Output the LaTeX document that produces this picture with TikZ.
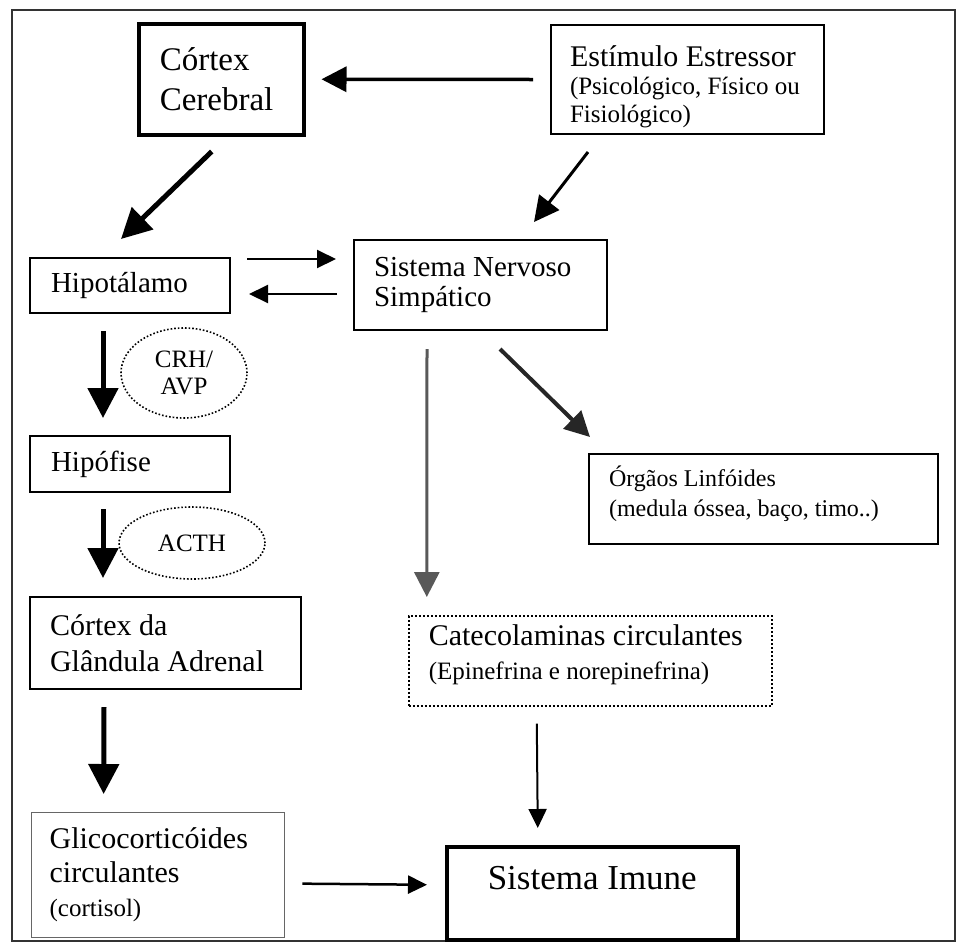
\documentclass[tikz,border=0pt]{standalone}
\usepackage{fontspec}
\setmainfont{Liberation Serif}
\usetikzlibrary{arrows.meta,shapes.geometric}

\tikzset{
  box/.style={draw, line width=2pt, anchor=north west, align=flush left, inner ysep=0pt},
  heavy/.style={line width=5pt, -{Triangle[length=30pt,width=30pt]}},
  medium/.style={line width=3pt, -{Triangle[length=25pt,width=25pt]}},
  lite/.style={line width=2pt, -{Triangle[length=19pt,width=18pt]}},
  hormone/.style={draw, dotted, line width=1.6pt, ellipse, inner sep=0pt, align=center}
}

\begin{document}
\begin{tikzpicture}[x=1pt, y=-1pt]
    \useasboundingbox (0,0) rectangle (960,943);
    % Frame
    \draw[line width=1.3pt, black!80] (12,10) rectangle (955,941);
    % Top row
    \node[box, line width=3.5pt, minimum width=165, minimum height=111, inner xsep=21, text width=123,
          font=\fontsize{33}{40}\selectfont] (cortex) at (137,22) {\rule{0pt}{18pt}Córtex\\Cerebral};
    \node[box, minimum width=273, minimum height=109, inner xsep=19, text width=235,
          font=\fontsize{25}{28}\selectfont] (estimulo) at (550,24)
          {\rule{0pt}{36pt}{\fontsize{30}{28}\selectfont Estímulo Estressor}\\(Psicológico, Físico ou\\Fisiológico)};
    % HPA axis
    \node[box, minimum width=200, minimum height=55, inner xsep=21, text width=158,
          font=\fontsize{29}{34}\selectfont] (hipot) at (29,257) {Hipotálamo};
    \node[box, minimum width=200, minimum height=56, inner xsep=21, text width=158,
          font=\fontsize{29}{34}\selectfont] (hipof) at (29,435) {Hipófise};
    \node[box, minimum width=271, minimum height=92, inner xsep=20, text width=231,
          font=\fontsize{30}{36}\selectfont] (adrenal) at (29,596) {Córtex da\\Glândula Adrenal};
    \node[box, line width=1.3pt, draw=black!60, minimum width=253, minimum height=125, inner xsep=18, text width=217,
          font=\fontsize{30}{34}\selectfont] (glico) at (31,812)
          {Glicocorticóides\\circulantes\\{\fontsize{25}{31}\selectfont (cortisol)}};
    % Hormones
    \node[hormone, minimum width=126, minimum height=90, font=\fontsize{25}{27}\selectfont] (crh) at (184,373) {CRH/\\AVP};
    \node[hormone, minimum width=146, minimum height=72, font=\fontsize{25}{27}\selectfont] (acth) at (192,543) {ACTH};
    % Sympathetic side
    \node[box, minimum width=253, minimum height=90, inner xsep=20, text width=213,
          font=\fontsize{29}{30}\selectfont] (sns) at (353,239) {Sistema Nervoso\\Simpático};
    \node[box, minimum width=349, minimum height=90, inner xsep=20, text width=309, text depth=45pt,
          font=\fontsize{24}{30}\selectfont] (orgaos) at (588,453) {Órgãos Linfóides\\(medula óssea, baço, timo..)};
    \node[box, dotted, line width=1.6pt, minimum width=363, minimum height=90, inner xsep=20, text width=323, text depth=52pt,
          font=\fontsize{25}{34}\selectfont] (catecol) at (408,615)
          {{\fontsize{30}{34}\selectfont Catecolaminas circulantes}\\(Epinefrina e norepinefrina)};
    \node[box, line width=3.5pt, minimum width=291, minimum height=93, align=center, text depth=31pt,
          font=\fontsize{35}{40}\selectfont] (imune) at (445,845) {Sistema Imune};
    % Arrows
    \draw[medium, line width=3.5pt] ([shift={(-17,0)}]estimulo.west) -- ([shift={(16,0)}]cortex.east);
    \draw[heavy] ([shift={(-9.5,15)}]cortex.south) -- ([shift={(-9,-18)}]hipot.north);
    \draw[medium] ([shift={(-99.5,17)}]estimulo.south) -- ([shift={(53.5,-17)}]sns.north);
    \draw[lite] ([shift={(16,-26.5)}]hipot.east) -- ([shift={(-17,-26)}]sns.west);
    \draw[lite] ([shift={(-16,9)}]sns.west) -- ([shift={(18,8.5)}]hipot.east);
    \draw[heavy] ([shift={(-27,17)}]hipot.south) -- ([shift={(-27,-17)}]hipof.north);
    \draw[heavy] ([shift={(-27,16)}]hipof.south) -- ([shift={(-62.5,-18)}]adrenal.north);
    \draw[heavy] ([shift={(-61.5,17)}]adrenal.south) -- ([shift={(-54.5,-18)}]glico.north);
    \draw[lite, line width=2.5pt] ([shift={(17,8.5)}]glico.east) -- ([shift={(-18,-8.5)}]imune.west);
    \draw[medium, black!65] ([shift={(-53.5,18)}]sns.south) -- ([shift={(-163.5,-18)}]catecol.north);
    \draw[medium, line width=4pt, black!85] ([shift={(19.5,18)}]sns.south) -- ([shift={(-173.5,-16)}]orgaos.north);
    \draw[lite] ([shift={(-53.5,17)}]catecol.south) -- ([shift={(-54.5,-17)}]imune.north);
\end{tikzpicture}
\end{document}
